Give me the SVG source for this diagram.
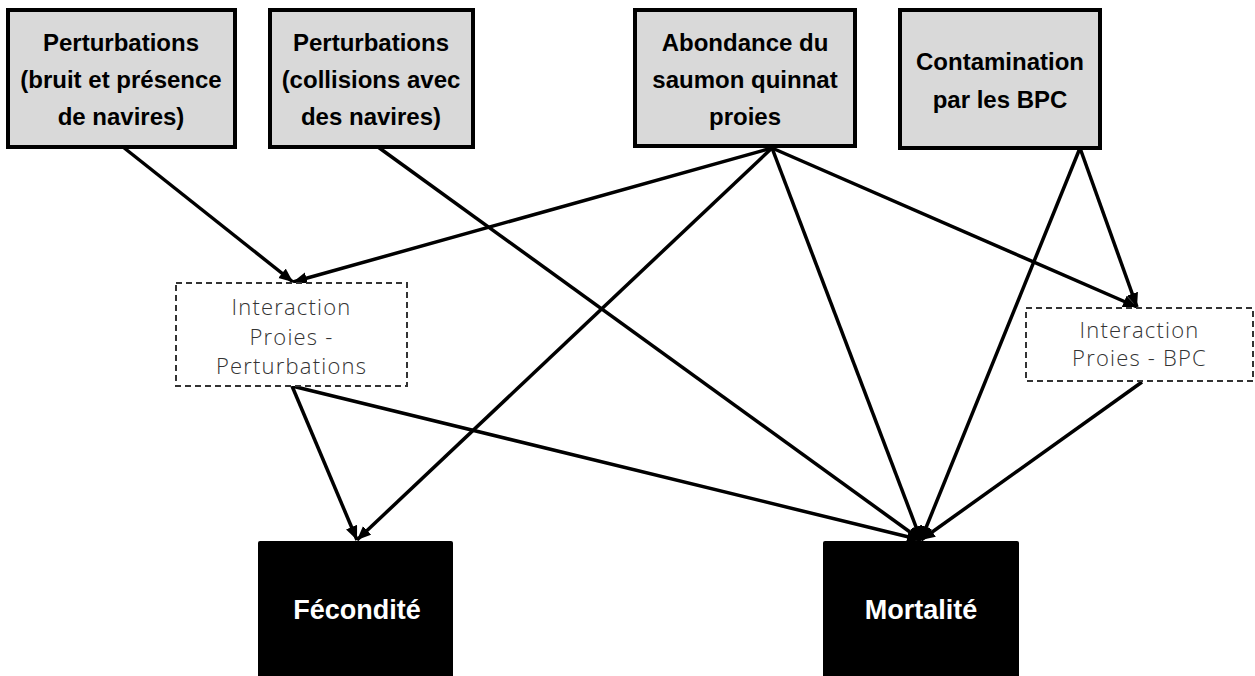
<svg xmlns="http://www.w3.org/2000/svg" width="1255" height="676" viewBox="0 0 1255 676">
<style>
.top rect{fill:#d9d9d9;stroke:#000;stroke-width:4}
.top text{font-family:"Liberation Sans",Arial,sans-serif;font-weight:bold;font-size:24px;fill:#000;text-anchor:middle}
.mid rect{fill:#fff;stroke:#333;stroke-width:2;stroke-dasharray:6 4}
.mid text{font-family:"Open Sans","Liberation Sans",sans-serif;font-weight:300;font-size:22px;letter-spacing:1.2px;fill:#333;text-anchor:middle}
.out rect{fill:#000}
.out text{font-family:"Liberation Sans",Arial,sans-serif;font-weight:bold;font-size:27px;fill:#fff;text-anchor:middle}
#connectors line{stroke:#000;stroke-width:3.5;marker-end:url(#arr)}
</style>
<defs>
<marker id="arr" markerUnits="userSpaceOnUse" markerWidth="16" markerHeight="14" refX="14" refY="6" orient="auto">
<path d="M0,0 L14,6 L0,12 z" fill="#000"/>
</marker>
</defs>
<g id="connectors">
<line x1="123" y1="147" x2="293" y2="282"/>
<line x1="378" y1="147" x2="921" y2="540"/>
<line x1="772" y1="148" x2="293" y2="282"/>
<line x1="772" y1="148" x2="357" y2="540"/>
<line x1="772" y1="148" x2="921" y2="540"/>
<line x1="772" y1="148" x2="1137" y2="307"/>
<line x1="1080" y1="148" x2="1137" y2="307"/>
<line x1="1080" y1="148" x2="921" y2="540"/>
<line x1="292" y1="386" x2="357" y2="540"/>
<line x1="292" y1="386" x2="921" y2="540"/>
<line x1="1142" y1="382" x2="921" y2="540"/>
</g>
<g id="n1" class="top">
<rect x="8" y="10" width="227" height="137"/>
<text x="121" y="51">Perturbations</text>
<text x="121" y="88">(bruit et présence</text>
<text x="121" y="125">de navires)</text>
</g>
<g id="n2" class="top">
<rect x="270" y="10" width="203" height="137"/>
<text x="371" y="51">Perturbations</text>
<text x="371" y="88">(collisions avec</text>
<text x="371" y="125">des navires)</text>
</g>
<g id="n3" class="top">
<rect x="635" y="10" width="220" height="136"/>
<text x="745" y="51">Abondance du</text>
<text x="745" y="88">saumon quinnat</text>
<text x="745" y="125">proies</text>
</g>
<g id="n4" class="top">
<rect x="900" y="10" width="200" height="138"/>
<text x="1000" y="70">Contamination</text>
<text x="1000" y="108">par les BPC</text>
</g>
<g id="n5" class="mid">
<rect x="176" y="283" width="231" height="103"/>
<text x="291.5" y="315">Interaction</text>
<text x="291.5" y="345">Proies -</text>
<text x="291.5" y="374">Perturbations</text>
</g>
<g id="n6" class="mid">
<rect x="1026" y="308" width="227" height="73"/>
<text x="1139.5" y="338">Interaction</text>
<text x="1139.5" y="366">Proies - BPC</text>
</g>
<g id="n7" class="out">
<rect x="258" y="541" width="195" height="140" rx="2"/>
<text x="357" y="619">Fécondité</text>
</g>
<g id="n8" class="out">
<rect x="823" y="541" width="196" height="140" rx="2"/>
<text x="921" y="619">Mortalité</text>
</g>
</svg>
